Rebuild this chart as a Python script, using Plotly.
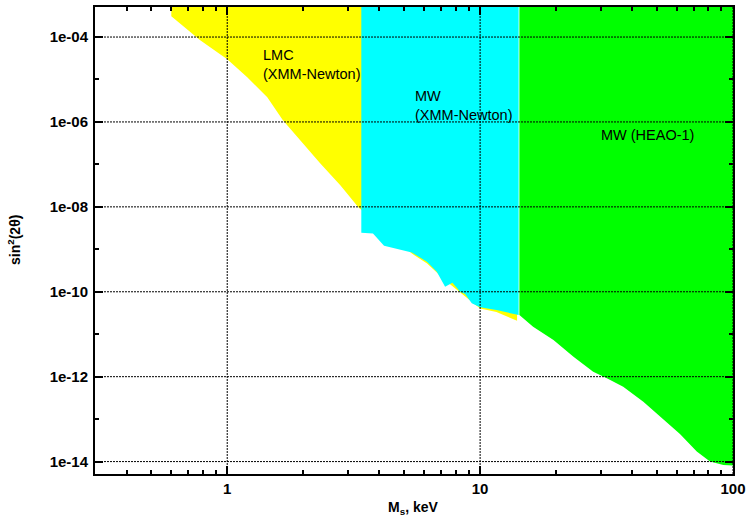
import math
import plotly.graph_objects as go

# ---------------- data ----------------
# LMC (XMM-Newton) exclusion boundary (keV, sin^2(2theta))
lmc_mass = [0.601, 0.782, 1.0, 1.20, 1.44, 1.66, 1.94, 2.33, 2.80, 3.30,
            5.37, 6.17, 7.27, 9.27, 10.0, 11.6, 14.0]
lmc_sin2 = [3.07e-4, 8.36e-5, 2.98e-5, 1.13e-5, 3.81e-6, 1.10e-6, 3.71e-7,
            1.07e-7, 3.24e-8, 9.85e-9, 7.92e-10, 4.61e-10, 1.88e-10,
            6.04e-11, 4.03e-11, 3.33e-11, 2.08e-11]

# MW (XMM-Newton) exclusion boundary
mw_xmm_mass = [3.39, 3.77, 4.17, 5.37, 6.16, 6.74, 7.27, 7.77, 8.34, 8.72,
               9.27, 10.0, 11.6, 14.2]
mw_xmm_sin2 = [2.44e-9, 2.36e-9, 1.21e-9, 8.45e-10, 5.08e-10, 2.96e-10,
               1.31e-10, 1.63e-10, 1.0e-10, 8.83e-11, 5.33e-11, 4.29e-11,
               3.71e-11, 2.83e-11]

# MW (HEAO-1) exclusion boundary
heao_mass = [14.3, 16.2, 19.5, 23.4, 28.0, 31.7, 36.8, 44.2, 51.5, 61.7,
             71.9, 81.1, 91.6, 100.0]
heao_sin2 = [2.83e-11, 1.50e-11, 7.31e-12, 2.96e-12, 1.31e-12, 9.17e-13,
             5.82e-13, 2.58e-13, 1.15e-13, 4.49e-14, 1.72e-14, 1.0e-14,
             8.36e-15, 8.05e-15]

x_major = [1, 10, 100]
x_major_text = ["1", "10", "100"]
x_minor = [0.4, 0.5, 0.6, 0.7, 0.8, 0.9, 2, 3, 4, 5, 6, 7, 8, 9,
           20, 30, 40, 50, 60, 70, 80, 90]
y_major = [1e-14, 1e-12, 1e-10, 1e-8, 1e-6, 1e-4]
y_major_text = ["1e-14", "1e-12", "1e-10", "1e-08", "1e-06", "1e-04"]
y_minor = [1e-13, 1e-11, 1e-9, 1e-7, 1e-5]

x_range = [0.3, 100]
y_range = [5.1e-15, 5.1e-4]
CEIL = 1e-2  # above plot top, clipped

FONT = "Liberation Sans, Arial, Helvetica, sans-serif"
W, H = 749, 519
ML, MR, MT, MB = 95, 16, 7, 45


def region(mass, sin2):
    xs = [mass[0]] + list(mass) + [mass[-1], mass[0]]
    ys = [CEIL] + list(sin2) + [CEIL, CEIL]
    return xs, ys


fig = go.Figure()
for (m, s, col) in [(lmc_mass, lmc_sin2, "#ffff00"),
                    (mw_xmm_mass, mw_xmm_sin2, "#00ffff"),
                    (heao_mass, heao_sin2, "#00ff00")]:
    xs, ys = region(m, s)
    fig.add_trace(go.Scatter(x=xs, y=ys, mode="lines", fill="toself",
                             fillcolor=col, line=dict(width=0, color=col),
                             hoverinfo="skip", showlegend=False))

# dotted grid drawn above the fills
GRID = dict(color="black", width=1, dash="2px,1px")
shapes = []
for xv in x_major:
    shapes.append(dict(type="line", xref="x", yref="paper", x0=xv, x1=xv,
                       y0=0, y1=1, layer="above", line=GRID))
for yv in y_major:
    shapes.append(dict(type="line", xref="paper", yref="y", x0=0, x1=1,
                       y0=yv, y1=yv, layer="above", line=GRID))

pw = W - ML - MR
ph = H - MT - MB

LBL = dict(family=FONT, size=14.5, color="black")
TTL = dict(family=FONT, size=14, color="black", weight="bold")

annotations = [
    dict(x=math.log10(1.39), y=-4.642, xref="x", yref="y", xshift=-2,
         text="LMC<br>(XMM-Newton)", showarrow=False, xanchor="left",
         yanchor="middle", align="left", font=LBL),
    dict(x=math.log10(5.50), y=-5.62, xref="x", yref="y", xshift=-1,
         text="MW<br>(XMM-Newton)", showarrow=False, xanchor="left",
         yanchor="middle", align="left", font=LBL),
    dict(x=math.log10(45.7), y=-6.31, xref="x", yref="y",
         text="MW (HEAO-1)", showarrow=False, xanchor="center",
         yanchor="middle", align="center", font=LBL),
    dict(x=-(ML - 14) / pw, y=(H - MB - 240) / ph, xref="paper", yref="paper",
         text="sin<sup>2</sup>(2θ)", showarrow=False, textangle=-90,
         xanchor="center", yanchor="middle", font=TTL),
    dict(x=(386 - ML) / pw, y=-(508 - (H - MB)) / ph, xref="paper", yref="paper",
         text="M<sub>s</sub>, keV", showarrow=False,
         xanchor="left", yanchor="middle", font=TTL),
]

axis_common = dict(showline=True, linecolor="black", linewidth=2,
                   mirror="allticks", ticks="inside", tickcolor="black",
                   ticklen=8, tickwidth=2, showgrid=False, zeroline=False,
                   tickfont=dict(family=FONT, size=15, color="black",
                                 weight="bold"))

fig.update_layout(
    width=W, height=H,
    margin=dict(l=ML, r=MR, t=MT, b=MB, autoexpand=False),
    paper_bgcolor="white", plot_bgcolor="white",
    shapes=shapes,
    annotations=annotations,
    xaxis=dict(type="log", range=[math.log10(x_range[0]), math.log10(x_range[1])],
               tickmode="array", tickvals=x_major, ticktext=x_major_text,
               minor=dict(tickmode="array", tickvals=x_minor, ticks="inside",
                          ticklen=4, tickcolor="black", tickwidth=1.5),
               **axis_common),
    yaxis=dict(type="log", range=[math.log10(y_range[0]), math.log10(y_range[1])],
               tickmode="array", tickvals=y_major, ticktext=y_major_text,
               minor=dict(tickmode="array", tickvals=y_minor, ticks="inside",
                          ticklen=4, tickcolor="black", tickwidth=1.5),
               ticklabelstandoff=2,
               **axis_common),
)

fig.write_html("out.html", config={"displayModeBar": False},
               post_script="document.body.style.margin='0';document.body.style.padding='0';")
